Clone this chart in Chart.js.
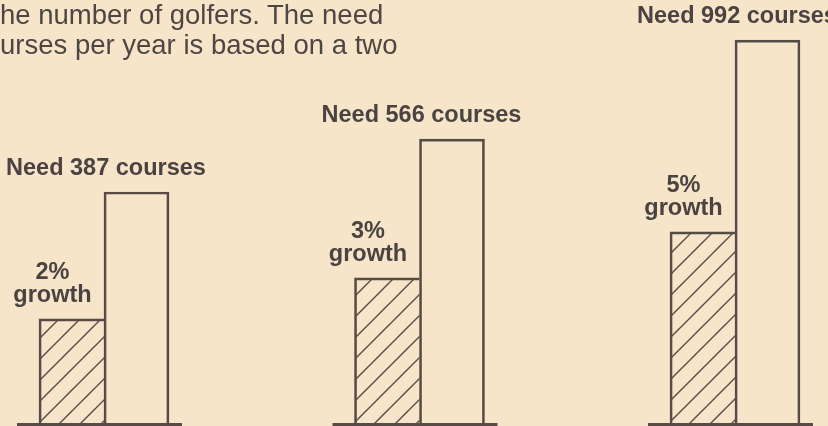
<!DOCTYPE html>
<html>
<head>
<meta charset="utf-8">
<script src="https://cdn.jsdelivr.net/npm/chart.js@4"></script>
<style>
  html, body { margin: 0; padding: 0; background: #f7e5ca; overflow: hidden; }
  #wrap { position: relative; width: 828px; height: 426px; }
  #golfChart { position: absolute; left: 0; top: 0; }
  #note {
    position: absolute; left: 0; top: 0;
    font: 27.5px "Liberation Sans", Arial, sans-serif;
    line-height: 30px; color: #4d4643; white-space: pre;
  }
</style>
</head>
<body>
<div id="wrap">
  <canvas id="golfChart" width="828" height="426"></canvas>
  <div id="note">he number of golfers. The need
urses per year is based on a two</div>
</div>
<script>
// growth scenarios, one group each
const growthRates = ['2%', '3%', '5%'];
const needLabels = ['Need 387 courses', 'Need 566 courses', 'Need 992 courses'];
// bar heights as % of the frame (no axis in the original)
const growthHeights = [24.6, 34.3, 45.2];   // hatched bars
const needHeights = [54.6, 67.1, 90.5];     // open bars

const ink = '#564b46';
const textInk = '#4a4341';

// diagonal hatch for the growth bars
function makeHatch() {
  const s = 21;
  const tile = document.createElement('canvas');
  tile.width = s;
  tile.height = s;
  const t = tile.getContext('2d');
  t.strokeStyle = ink;
  t.lineWidth = 1.4;
  t.beginPath();
  t.moveTo(0, s); t.lineTo(s, 0);
  t.moveTo(-2, 2); t.lineTo(2, -2);
  t.moveTo(s - 2, s + 2); t.lineTo(s + 2, s - 2);
  t.stroke();
  return t.createPattern(tile, 'repeat');
}

// baselines under each group and the text labels
const labelPlugin = {
  id: 'labelPlugin',
  afterDatasetsDraw(chart) {
    const ctx = chart.ctx;
    const hatched = chart.getDatasetMeta(0).data;
    const tall = chart.getDatasetMeta(1).data;
    const base = chart.chartArea.bottom;
    ctx.save();
    ctx.strokeStyle = ink;
    ctx.fillStyle = textInk;
    ctx.textAlign = 'center';
    ctx.textBaseline = 'alphabetic';
    ctx.font = 'bold 23.5px "Liberation Sans", Arial, sans-serif';
    hatched.forEach((bar, i) => {
      const left = bar.x - bar.width / 2;
      const right = tall[i].x + tall[i].width / 2;
      ctx.lineWidth = 3;
      ctx.beginPath();
      ctx.moveTo(left - 22, base + 1.5);
      ctx.lineTo(right + 13, base + 1.5);
      ctx.stroke();
      ctx.fillText(growthRates[i], bar.x - 19, bar.y - 40);
      ctx.fillText('growth', bar.x - 19, bar.y - 17);
      ctx.fillText(needLabels[i], (left + right) / 2 + 2, tall[i].y - 17);
    });
    ctx.restore();
  }
};

const ctx = document.getElementById('golfChart').getContext('2d');
const chart = new Chart(ctx, {
  type: 'bar',
  data: {
    datasets: [
      {
        label: 'Growth',
        data: growthHeights.map((v, i) => ({ x: i, y: v })),
        backgroundColor: makeHatch(),
        borderColor: ink,
        borderWidth: { top: 2, left: 2, right: 0, bottom: 0 },
        borderSkipped: false,
        barThickness: 65,
      },
      {
        label: 'Need',
        data: needHeights.map((v, i) => ({ x: i, y: v })),
        backgroundColor: 'rgba(0,0,0,0)',
        borderColor: ink,
        borderWidth: { top: 2, left: 2, right: 2, bottom: 0 },
        borderSkipped: false,
        barThickness: 65,
      },
    ],
  },
  options: {
    responsive: false,
    animation: false,
    devicePixelRatio: 1,
    layout: { padding: { left: 0, right: 0, top: 0, bottom: 3 } },
    plugins: {
      legend: { display: false },
      tooltip: { enabled: false },
    },
    scales: {
      x: { type: 'linear', min: -0.3296, max: 2.2948, offset: false, display: false },
      y: { min: 0, max: 100, display: false },
    },
  },
  plugins: [labelPlugin],
});
</script>
</body>
</html>
